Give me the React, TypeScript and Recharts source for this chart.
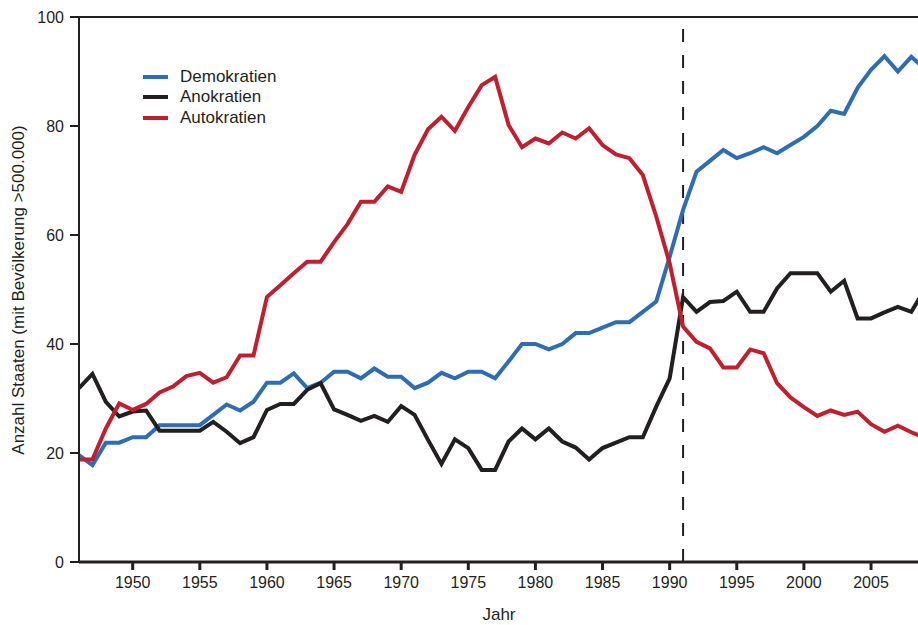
import React from 'react';
import {
  LineChart,
  Line,
  XAxis,
  YAxis,
  ReferenceLine,
} from 'recharts';

const years = [
  1946, 1947, 1948, 1949, 1950, 1951, 1952, 1953, 1954, 1955, 1956, 1957, 1958, 1959, 1960, 1961,
  1962, 1963, 1964, 1965, 1966, 1967, 1968, 1969, 1970, 1971, 1972, 1973, 1974, 1975, 1976, 1977,
  1978, 1979, 1980, 1981, 1982, 1983, 1984, 1985, 1986, 1987, 1988, 1989, 1990, 1991, 1992, 1993,
  1994, 1995, 1996, 1997, 1998, 1999, 2000, 2001, 2002, 2003, 2004, 2005, 2006, 2007, 2008, 2009,
];

const demokratien = [
  19.6, 17.8, 21.9, 21.9, 22.9, 22.9, 25.1, 25.1, 25.1, 25.1, 27, 28.9, 27.8, 29.4, 32.9, 32.9,
  34.6, 31.9, 32.9, 34.9, 34.9, 33.7, 35.5, 34, 34, 31.9, 32.9, 34.7, 33.7, 34.9, 34.9, 33.7,
  36.8, 40, 40, 39, 40, 42, 42, 43, 44, 44, 45.9, 47.8, 56, 64.6, 71.6, 73.6,
  75.6, 74.1, 75, 76.1, 75, 76.5, 78, 80, 82.8, 82.2, 87, 90.3, 92.8, 90, 92.7, 90.5,
];

const anokratien = [
  31.9, 34.5, 29.4, 26.7, 27.6, 27.8, 24.1, 24.1, 24.1, 24.1, 25.7, 23.9, 21.8, 22.9, 27.9, 29,
  29, 31.6, 32.8, 28, 27, 25.9, 26.8, 25.7, 28.6, 27, 22.4, 18, 22.5, 20.9, 16.9, 16.9,
  22.1, 24.5, 22.5, 24.5, 22.1, 21, 18.8, 20.9, 21.9, 22.9, 22.9, 28.5, 33.7, 48.6, 45.9, 47.7,
  47.9, 49.6, 45.9, 45.9, 50.2, 53, 53, 53, 49.6, 51.6, 44.7, 44.7, 45.8, 46.8, 45.9, 50,
];

const autokratien = [
  18.8, 18.8, 24.5, 29.1, 27.9, 29, 31.1, 32.2, 34.1, 34.7, 32.9, 33.9, 37.9, 37.9, 48.6, 50.8,
  53, 55.1, 55.1, 58.7, 62, 66.1, 66.1, 68.9, 67.9, 74.7, 79.4, 81.7, 79.1, 83.5, 87.5, 89,
  80.2, 76.1, 77.7, 76.8, 78.8, 77.7, 79.6, 76.5, 74.8, 74.1, 71, 63.4, 54.8, 43.2, 40.4, 39.2,
  35.7, 35.7, 39, 38.3, 32.8, 30.2, 28.4, 26.8, 27.8, 27, 27.6, 25.3, 23.9, 25, 23.8, 22.8,
];

const xTicks = [1950, 1955, 1960, 1965, 1970, 1975, 1980, 1985, 1990, 1995, 2000, 2005];
const yTicks = [0, 20, 40, 60, 80, 100];

const series = [
  { key: 'demokratien', name: 'Demokratien', color: '#2e6db4' },
  { key: 'anokratien', name: 'Anokratien', color: '#231f20' },
  { key: 'autokratien', name: 'Autokratien', color: '#c01f2f' },
];

const data = years.map((year, i) => ({
  year,
  demokratien: demokratien[i],
  anokratien: anokratien[i],
  autokratien: autokratien[i],
}));

const ink = '#231f20';
const font = '"Liberation Sans", Arial, sans-serif';

// legend sits inside the plot, top left
function LegendBox() {
  return (
    <div
      style={{
        position: 'absolute',
        left: 143,
        top: 67,
        fontFamily: font,
        fontSize: 17,
        color: ink,
      }}
    >
      {series.map((s) => (
        <div key={s.key} style={{ display: 'flex', alignItems: 'center', height: 20.3 }}>
          <span style={{ width: 25, height: 4, background: s.color, marginRight: 12 }} />
          <span>{s.name}</span>
        </div>
      ))}
    </div>
  );
}

export default function App() {
  return (
    <div style={{ position: 'absolute', left: 0, top: 0, width: 918, height: 625, background: '#fff' }}>
      <LineChart
        width={918}
        height={625}
        data={data}
        margin={{ top: 17, right: 0, left: 0, bottom: 0 }}
        style={{ fontFamily: font }}
      >
        <XAxis
          type="number"
          dataKey="year"
          domain={[1946, 2008.5]}
          allowDataOverflow
          ticks={xTicks}
          tickSize={8}
          tickMargin={7}
          stroke={ink}
          strokeWidth={3}
          tick={{ fill: ink, fontSize: 16 }}
          height={63}
          label={{
            content: () => (
              <text x={499} y={620} textAnchor="middle" fill={ink} fontSize={17} fontFamily={font}>
                Jahr
              </text>
            ),
          }}
        />
        <YAxis
          type="number"
          domain={[0, 100]}
          ticks={yTicks}
          width={79}
          tickSize={9}
          tickMargin={6}
          stroke={ink}
          strokeWidth={2}
          tick={{ fill: ink, fontSize: 16 }}
          label={{
            content: () => (
              <text
                x={24}
                y={290}
                transform="rotate(-90 24 290)"
                textAnchor="middle"
                fill={ink}
                fontSize={17}
                fontFamily={font}
              >
                Anzahl Staaten (mit Bevölkerung &gt;500.000)
              </text>
            ),
          }}
        />
        <ReferenceLine y={100} stroke={ink} strokeWidth={2} />
        <ReferenceLine x={1991} stroke={ink} strokeWidth={2} strokeDasharray="13 13" />
        {series.map((s) => (
          <Line
            key={s.key}
            type="linear"
            dataKey={s.key}
            name={s.name}
            stroke={s.color}
            strokeWidth={4}
            dot={false}
            activeDot={false}
            isAnimationActive={false}
          />
        ))}
      </LineChart>
      <LegendBox />
    </div>
  );
}
